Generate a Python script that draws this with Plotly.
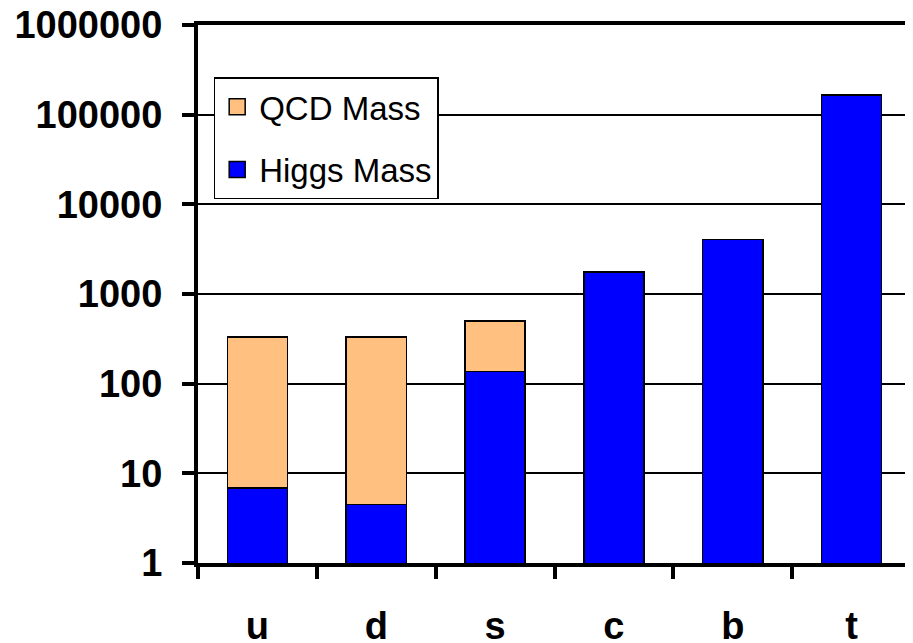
import plotly.graph_objects as go

quarks = ["u", "d", "s", "c", "b", "t"]
higgs_mass = [6.9, 4.5, 136, 1760, 4060, 165000]
qcd_mass = [324, 326, 367, 0, 0, 0]

y_tickvals = [1, 10, 100, 1000, 10000, 100000, 1000000]
y_ticktext = ["1", "10", "100", "1000", "10000", "100000", "1000000"]

font_family = "Liberation Sans, Arial, sans-serif"
higgs_color = "#0000FF"
qcd_color = "#FFC080"

fig = go.Figure()
fig.add_trace(go.Bar(
    x=quarks, y=higgs_mass, name="Higgs Mass", showlegend=False,
    marker=dict(color=higgs_color, line=dict(color="black", width=1.5)),
))
fig.add_trace(go.Bar(
    x=quarks, y=qcd_mass, name="QCD Mass", showlegend=False,
    marker=dict(color=qcd_color, line=dict(color="black", width=1.5)),
))
# legend entries
fig.add_trace(go.Scatter(
    x=[None], y=[None], mode="markers", name="QCD Mass",
    legendgroup="q", legendrank=1,
    marker=dict(symbol="square", size=16, color=qcd_color,
                line=dict(color="black", width=1.5)),
))
fig.add_trace(go.Scatter(
    x=[None], y=[None], mode="markers", name="Higgs Mass",
    legendgroup="h", legendrank=2,
    marker=dict(symbol="square", size=16, color=higgs_color,
                line=dict(color="black", width=1.5)),
))

fig.update_layout(
    width=905, height=635,
    barmode="stack", bargap=0.495,
    plot_bgcolor="white", paper_bgcolor="white",
    margin=dict(l=190, r=2, t=17, b=80),
    font=dict(family=font_family, color="black"),
    legend=dict(
        x=0.022, y=0.903, xanchor="left", yanchor="top",
        bgcolor="white", bordercolor="black", borderwidth=1.5,
        font=dict(size=33, family=font_family),
        traceorder="grouped", tracegroupgap=17, itemwidth=34,
    ),
    showlegend=True,
)
fig.update_yaxes(
    type="log", range=[0, 6], automargin=False,
    tickvals=y_tickvals, ticktext=y_ticktext,
    tickfont=dict(size=38, family=font_family, weight="bold"),
    showline=True, linecolor="black", linewidth=4, mirror=True,
    ticks="outside", ticklen=12, tickwidth=4, tickcolor="black",
    showgrid=True, gridcolor="black", gridwidth=1.5,
    zeroline=False, ticklabelstandoff=12, ticklabeloverflow="allow",
)
fig.update_xaxes(
    type="category", tickson="boundaries", automargin=False,
    tickfont=dict(size=38, family=font_family, weight="bold"),
    showline=True, linecolor="black", linewidth=4, mirror=True,
    ticks="outside", ticklen=12, tickwidth=4, tickcolor="black",
    showgrid=False, ticklabelstandoff=26, ticklabeloverflow="allow",
)

fig.write_html("out.html")
